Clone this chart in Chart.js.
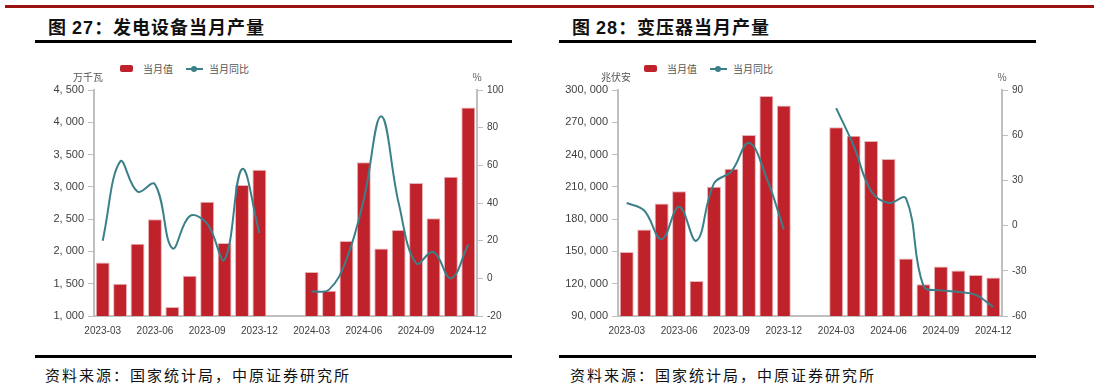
<!DOCTYPE html>
<html>
<head>
<meta charset="utf-8">
<script src="https://cdn.jsdelivr.net/npm/chart.js@4.4.1/dist/chart.umd.min.js"></script>
<style>
  body { margin: 0; background: #fff; width: 1094px; height: 388px; position: relative; overflow: hidden; font-family: "Noto Sans CJK SC", sans-serif; }
  .redline { position: absolute; left: 5px; top: 5px; width: 1089px; height: 3px; background: #9b1212; }
  .title { position: absolute; top: 13px; font-size: 18px; font-weight: bold; letter-spacing: 1px; color: #111; }
  .title b { font-family: "Liberation Sans", Arial, sans-serif; }
  .rule { position: absolute; height: 3px; background: #000; width: 477px; }
  .source { position: absolute; top: 364px; font-size: 15px; letter-spacing: 2px; color: #111; }
  .legend { position: absolute; top: 61px; display: flex; align-items: center; font-size: 10px; color: #555; }
  .legend .item { display: flex; align-items: center; margin-right: 13px; }
  .legend .box { width: 13px; height: 7px; border-radius: 2px; margin-right: 10px; }
  .legend .ln { position: relative; width: 17px; height: 2px; margin-right: 6px; }
  .legend .ln i { position: absolute; left: 5px; top: -2px; width: 6px; height: 6px; border-radius: 3px; }
  canvas { position: absolute; }
</style>
</head>
<body>
<div class="redline"></div>

<div class="title" style="left:48px">图 <b>27</b>：发电设备当月产量</div>
<div class="rule" style="left:35px; top:40px"></div>
<div class="legend" id="leg1" style="left:120px"></div>
<canvas id="c1" width="475" height="285" style="left:40px; top:60px"></canvas>
<div class="rule" style="left:35px; top:355px"></div>
<div class="source" style="left:45px">资料来源：国家统计局，中原证券研究所</div>

<div class="title" style="left:572px">图 <b>28</b>：变压器当月产量</div>
<div class="rule" style="left:559px; top:40px"></div>
<div class="legend" id="leg2" style="left:644px"></div>
<canvas id="c2" width="475" height="285" style="left:560px; top:60px"></canvas>
<div class="rule" style="left:559px; top:355px"></div>
<div class="source" style="left:570px">资料来源：国家统计局，中原证券研究所</div>

<script>
// mois 2023-03 .. 2024-12 (2024-01 et 2024-02 sans donnees)
const months = ['2023-03','2023-04','2023-05','2023-06','2023-07','2023-08','2023-09','2023-10','2023-11','2023-12',
  '2024-01','2024-02','2024-03','2024-04','2024-05','2024-06','2024-07','2024-08','2024-09','2024-10','2024-11','2024-12'];

// fig 27 : production d'equipements de generation (万千瓦) et variation (%)
const genValue = [1830, 1500, 2120, 2500, 1140, 1625, 2770, 2130, 3030, 3265, null, null,
  1680, 1390, 2160, 3380, 2045, 2330, 3060, 2515, 3155, 4230];
const genYoy = [20, 62, 46, 50, 16, 33, 29, 10, 58, 24, null, null,
  -7, -6, 10, 42, 86, 40, 8, 14, 0, 18];

// fig 28 : production de transformateurs (兆伏安) et variation (%)
const trValue = [149500, 170300, 194500, 206000, 122600, 210000, 226800, 258100, 294400, 285700, null, null,
  265300, 257500, 252500, 235800, 143400, 119500, 135900, 132200, 128200, 125700];
const trYoy = [15, 10, -9, 12.5, -10, 28, 36, 55, 32, -2.5, null, null,
  78, 53, 23, 15, 18, -40, -43, -44, -46, -54];

const labelValue = '当月值';
const labelYoy = '当月同比';

const red = '#c0222b';
const teal = '#3b8088';
const axisGrey = '#bfbfbf';
const tickColor = '#404040';

function fmt(v) {
  return v.toLocaleString('en-US').replace(/,/g, ', ');
}

// petit plugin pour les unites au dessus des axes
const unitLabels = {
  id: 'unitLabels',
  afterDraw(chart, args, opts) {
    const ctx = chart.ctx;
    ctx.save();
    ctx.font = '10px "Noto Sans CJK SC"';
    ctx.fillStyle = '#555';
    ctx.textAlign = 'center';
    ctx.textBaseline = 'middle';
    ctx.fillText(opts.left, chart.chartArea.left - opts.leftShift, chart.chartArea.top - 13);
    ctx.fillText(opts.right, chart.chartArea.right, chart.chartArea.top - 13);
    ctx.restore();
  }
};

function build_chart(id, legId, values, yoy, leftCfg, rightCfg, unitLeft, leftShift) {
  const chart = new Chart(document.getElementById(id), {
    type: 'bar',
    plugins: [unitLabels],
    data: {
      labels: months,
      datasets: [
        {
          type: 'bar',
          label: labelValue,
          data: values,
          backgroundColor: red,
          borderColor: '#e7b3b5',
          borderWidth: 1,
          barPercentage: 0.8,
          categoryPercentage: 1,
          yAxisID: 'y',
          order: 2
        },
        {
          type: 'line',
          label: labelYoy,
          data: yoy,
          borderColor: teal,
          borderWidth: 2,
          pointRadius: 0,
          tension: 0.4,
          spanGaps: false,
          yAxisID: 'y2',
          order: 1
        }
      ]
    },
    options: {
      responsive: false,
      animation: false,
      layout: { padding: { top: 30, bottom: 0, left: 0, right: 0 } },
      plugins: {
        legend: { display: false },
        tooltip: { enabled: false },
        unitLabels: { left: unitLeft, right: '%', leftShift: leftShift }
      },
      scales: {
        x: {
          grid: { display: false, drawTicks: false },
          border: { color: axisGrey, width: 2 },
          ticks: {
            autoSkip: false,
            maxRotation: 0,
            padding: 9,
            color: tickColor,
            font: { size: 10, family: 'Liberation Sans' },
            callback: function (v, i) { return i % 3 === 0 ? this.getLabelForValue(v) : ''; }
          },
          afterFit(s) { s.height = 29; }
        },
        y: {
          position: 'left',
          min: leftCfg.min,
          max: leftCfg.max,
          grid: { drawOnChartArea: false, drawTicks: true, tickLength: 6, color: axisGrey },
          border: { color: axisGrey, width: 2 },
          ticks: {
            stepSize: leftCfg.step,
            padding: 4,
            color: tickColor,
            font: { size: 11, family: 'Liberation Sans' },
            callback: v => fmt(v)
          },
          afterFit(s) { s.width = leftCfg.width; }
        },
        y2: {
          position: 'right',
          min: rightCfg.min,
          max: rightCfg.max,
          grid: { drawOnChartArea: false, drawTicks: true, tickLength: 6, color: axisGrey },
          border: { color: axisGrey, width: 2 },
          ticks: {
            stepSize: rightCfg.step,
            padding: 4,
            color: tickColor,
            font: { size: 10, family: 'Liberation Sans' }
          },
          afterFit(s) { s.width = rightCfg.width; }
        }
      }
    }
  });

  // legende html a partir des datasets
  const leg = document.getElementById(legId);
  chart.data.datasets.forEach(ds => {
    const item = document.createElement('div');
    item.className = 'item';
    if (ds.type === 'bar') {
      item.innerHTML = '<span class="box" style="background:' + ds.backgroundColor + '"></span>' + ds.label;
    } else {
      item.innerHTML = '<span class="ln" style="background:' + ds.borderColor + '"><i style="background:' + ds.borderColor + '"></i></span>' + ds.label;
    }
    leg.appendChild(item);
  });
  return chart;
}

build_chart('c1', 'leg1', genValue, genYoy,
  { min: 1000, max: 4500, step: 500, width: 54 },
  { min: -20, max: 100, step: 20, width: 38 }, '万千瓦', 6);

build_chart('c2', 'leg2', trValue, trYoy,
  { min: 90000, max: 300000, step: 30000, width: 58 },
  { min: -60, max: 90, step: 30, width: 33 }, '兆伏安', 2);
</script>
</body>
</html>
